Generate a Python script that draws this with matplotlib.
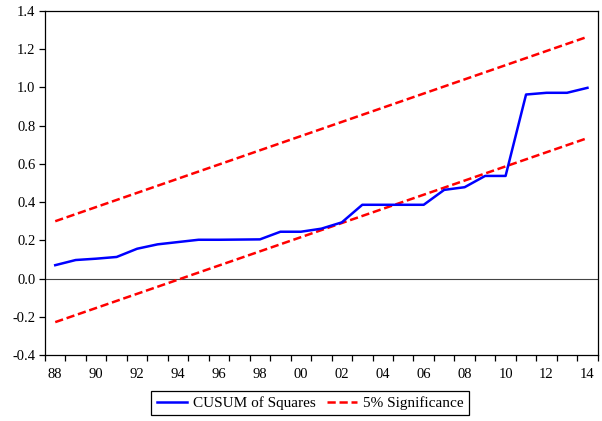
import numpy as np
import matplotlib.pyplot as plt

plt.rcParams.update({
    "font.family": "Liberation Serif",
    "font.size": 10.5,
    "axes.linewidth": 0.9,
})

years = np.arange(1988, 2015)
cusum_sq = [0.070, 0.097, 0.104, 0.113, 0.156, 0.179, 0.191, 0.203, 0.203,
            0.204, 0.205, 0.245, 0.245, 0.261, 0.294, 0.386, 0.386, 0.386,
            0.386, 0.464, 0.478, 0.537, 0.537, 0.963, 0.972, 0.972, 0.998]

# 5% bands, straight lines between first and last observation
band_years = [1988, 2014]
upper = [0.300, 1.265]
lower = [-0.228, 0.735]

xlabels = ["88", "90", "92", "94", "96", "98", "00", "02", "04", "06",
           "08", "10", "12", "14"]

fig = plt.figure(figsize=(6.02, 4.21), dpi=100)
ax = fig.add_axes([45 / 602, 66 / 421, 552.7 / 602, 344 / 421])

ax.axhline(0, color="#444444", lw=0.8, zorder=1)
l1, = ax.plot(years, cusum_sq, color="#0000ff", lw=1.8,
              label="CUSUM of Squares", zorder=3)
l2, = ax.plot(band_years, upper, color="#ff0000", lw=1.8,
              dashes=(3.3, 1.5), label="5% Significance", zorder=2)
ax.plot(band_years, lower, color="#ff0000", lw=1.8, dashes=(3.3, 1.5), zorder=2)

ax.set_xlim(1987.5, 2014.5)
ax.set_ylim(-0.4, 1.4)
ax.set_yticks(np.arange(-0.4, 1.41, 0.2))
ax.set_yticklabels([f"{v:.1f}" for v in np.arange(-0.4, 1.41, 0.2)])

# tick marks at interval edges, labels centred on even years
ax.set_xticks(np.arange(1987.5, 2015, 1.0))
ax.set_xticklabels([])
ax.set_xticks(np.arange(1988, 2015, 2), minor=True)
ax.set_xticklabels(xlabels, minor=True)
ax.tick_params(axis="x", which="major", direction="out", length=4.5, width=0.9)
ax.tick_params(axis="x", which="minor", length=0, pad=9)
ax.tick_params(axis="y", direction="out", length=4.5, width=0.9, pad=2.5)

leg = fig.legend(handles=[l1, l2], loc="center",
                 bbox_to_anchor=(310.3 / 602, 18 / 421), ncol=2,
                 fontsize=11, frameon=True, fancybox=False, shadow=False,
                 edgecolor="black", framealpha=1, borderpad=0.35,
                 handlelength=2.0, handletextpad=0.4, columnspacing=0.7)
leg.get_frame().set_linewidth(0.9)

fig.savefig("out.png", dpi=100)
